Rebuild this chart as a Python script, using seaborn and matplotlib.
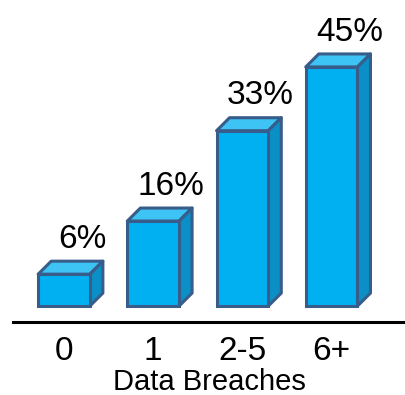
import matplotlib
matplotlib.use("Agg")
import matplotlib.pyplot as plt
import seaborn as sns
from matplotlib.patches import Polygon

# Dados
categorias = ["0", "1", "2-5", "6+"]
percentuais = [6, 16, 33, 45]
rotulos = ["6%", "16%", "33%", "45%"]

sns.set_style("white")
plt.rcParams['font.family'] = ['Liberation Sans', 'DejaVu Sans']

cor_frente = "#00B0F0"
cor_topo = "#3DC3F4"
cor_lado = "#0A8FC6"
cor_borda = "#385D8A"

fig = plt.figure(figsize=(4.06, 3.95), dpi=100)
ax = fig.add_axes([13 / 406, 73 / 395, 393 / 406, 322 / 395])

sns.barplot(x=categorias, y=percentuais, color=cor_frente, saturation=1,
            width=0.58, edgecolor=cor_borda, linewidth=2.2, ax=ax, zorder=3)

ax.set_xlim(-0.572, 3.834)
ax.set_ylim(-3.0, 57.6)

# profundidade do efeito 3D (pixels convertidos para dados)
fig.canvas.draw()
inv = ax.transData.inverted()
x0, y0 = inv.transform((0, 0))
x1, y1 = inv.transform((13, 13))
dx, dy = x1 - x0, y1 - y0

for p, rot in zip(ax.patches, rotulos):
    x, w, h = p.get_x(), p.get_width(), p.get_height()
    topo = Polygon([(x, h), (x + dx, h + dy), (x + w + dx, h + dy), (x + w, h)],
                   closed=True, facecolor=cor_topo, edgecolor=cor_borda,
                   linewidth=2.2, joinstyle='round', zorder=2)
    lado = Polygon([(x + w, 0), (x + w, h), (x + w + dx, h + dy), (x + w + dx, dy)],
                   closed=True, facecolor=cor_lado, edgecolor=cor_borda,
                   linewidth=2.2, joinstyle='round', zorder=2)
    ax.add_patch(topo)
    ax.add_patch(lado)
    ax.annotate(rot, (x + w / 2, h), xytext=(13, 19), textcoords='offset points',
                ha='center', va='baseline', fontsize=24, color='black')

for s in ['top', 'right', 'left']:
    ax.spines[s].set_visible(False)
ax.spines['bottom'].set_linewidth(2.2)
ax.spines['bottom'].set_color('black')
ax.spines['bottom'].set_position(('data', -3.0))

ax.set_yticks([])
ax.tick_params(axis='x', length=0, pad=10, labelsize=24, labelcolor='black')
ax.set_xlabel("Data Breaches", fontsize=21, labelpad=1, color='black')
ax.set_ylabel("")

fig.savefig("out.png", dpi=100)
